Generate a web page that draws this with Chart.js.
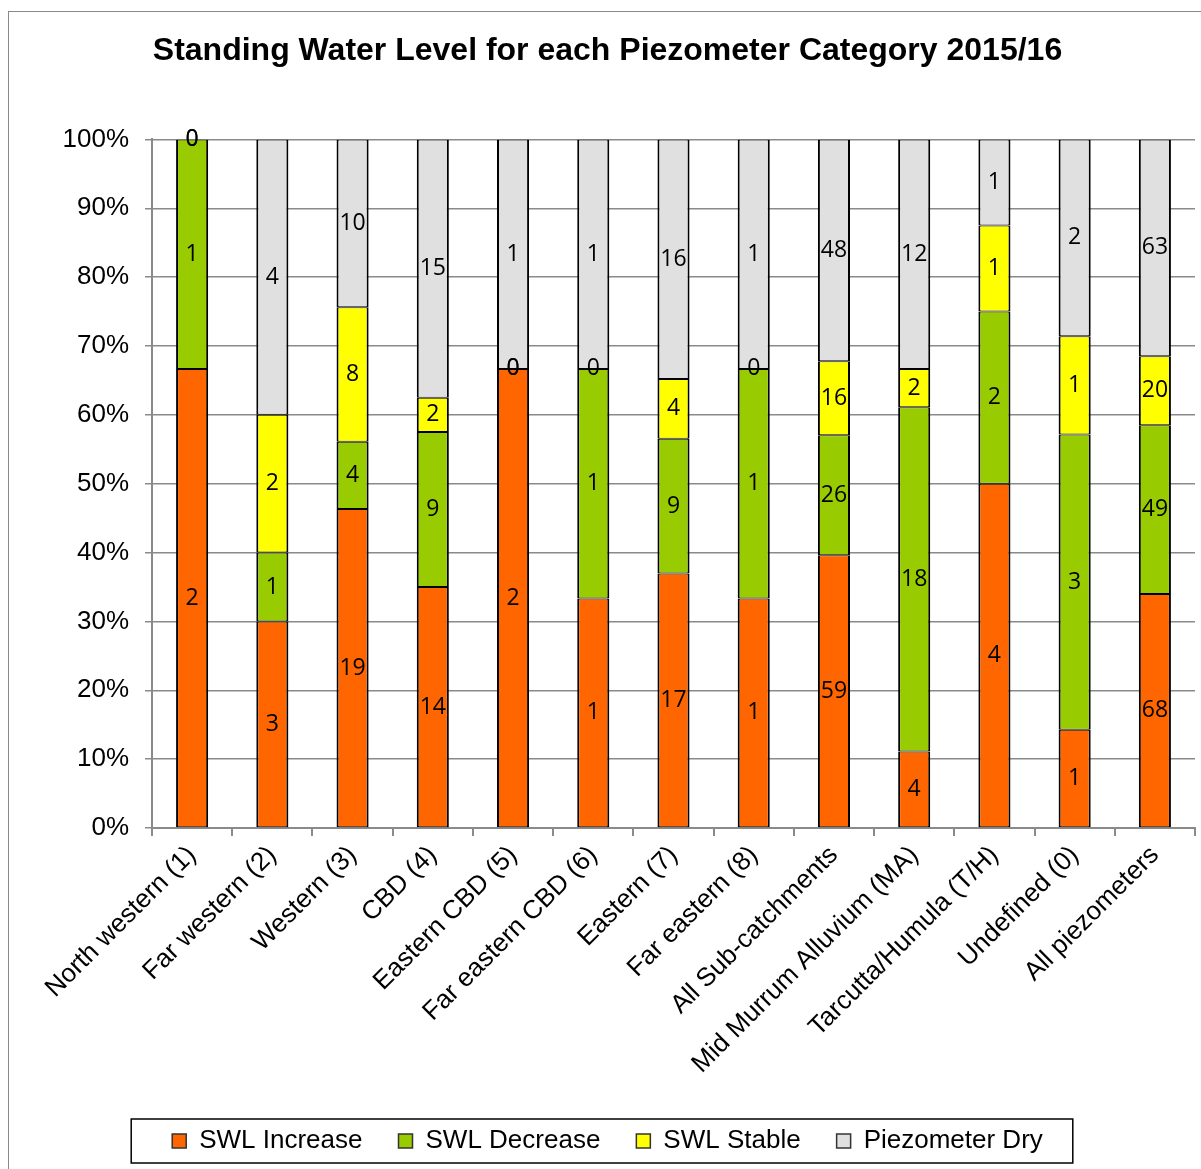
<!DOCTYPE html>
<html>
<head>
<meta charset="utf-8">
<script src="https://cdn.jsdelivr.net/npm/chart.js@4/dist/chart.umd.min.js"></script>
<style>
  html, body { margin: 0; padding: 0; background: #fff; overflow: hidden; }
  #frame { position: absolute; left: 8px; top: 11px; width: 1220px; height: 1200px; border: 1.5px solid #8a8a8a; }
  #wrap { position: absolute; left: 0; top: 0; width: 1201px; height: 1164px; }
</style>
</head>
<body>
<div id="frame"></div>
<div id="wrap"><canvas id="chart" width="1201" height="1164"></canvas></div>
<script>
const categories = ["North western (1)", "Far western (2)", "Western (3)", "CBD (4)", "Eastern CBD (5)",
  "Far eastern CBD (6)", "Eastern (7)", "Far eastern (8)", "All Sub-catchments",
  "Mid Murrum Alluvium (MA)", "Tarcutta/Humula (T/H)", "Undefined (0)", "All piezometers"];
const swlIncrease = [2, 3, 19, 14, 2, 1, 17, 1, 59, 4, 4, 1, 68];
const swlDecrease = [1, 1, 4, 9, 0, 1, 9, 1, 26, 18, 2, 3, 49];
const swlStable = [0, 2, 8, 2, 0, 0, 4, 0, 16, 2, 1, 1, 20];
const piezoDry = [0, 4, 10, 15, 1, 1, 16, 1, 48, 12, 1, 2, 63];
const yTicks = [0, 10, 20, 30, 40, 50, 60, 70, 80, 90, 100];

// totals per category, bars are shown as share of the total
const totals = categories.map((c, i) => swlIncrease[i] + swlDecrease[i] + swlStable[i] + piezoDry[i]);
const pct = (arr) => arr.map((v, i) => (v / totals[i]) * 100);

function series(label, counts, color) {
  return {
    label: label,
    data: pct(counts),
    counts: counts,
    backgroundColor: color,
    borderColor: "#000",
    borderWidth: { left: 2, right: 2, top: 1, bottom: 1 },
    borderSkipped: false,
    categoryPercentage: 1,
    barPercentage: 0.4,
  };
}

// count labels in the middle of every segment
const countLabels = {
  id: "countLabels",
  afterDatasetsDraw(chart) {
    const c = chart.ctx;
    c.save();
    c.font = "23px 'Open Sans', sans-serif";
    c.fillStyle = "#000";
    c.textAlign = "center";
    c.textBaseline = "middle";
    chart.data.datasets.forEach((ds, di) => {
      const meta = chart.getDatasetMeta(di);
      meta.data.forEach((bar, i) => {
        c.fillText(String(ds.counts[i]), bar.x, (bar.y + bar.base) / 2);
      });
    });
    c.restore();
  },
};

// box round the legend
const legendBox = {
  id: "legendBox",
  afterDraw(chart) {
    const lg = chart.legend;
    if (!lg || !lg.legendHitBoxes.length) return;
    const hb = lg.legendHitBoxes;
    const first = hb[0];
    const last = hb[hb.length - 1];
    const midY = first.top + first.height / 2;
    const c = chart.ctx;
    c.save();
    c.strokeStyle = "#000";
    c.lineWidth = 1.5;
    c.strokeRect(first.left - 41, midY - 22, last.left + last.width - first.left + 71, 44);
    c.restore();
  },
};

new Chart(document.getElementById("chart"), {
  type: "bar",
  data: {
    labels: categories,
    datasets: [
      series("SWL Increase", swlIncrease, "#FF6600"),
      series("SWL Decrease", swlDecrease, "#99CC00"),
      series("SWL Stable", swlStable, "#FFFF00"),
      series("Piezometer Dry", piezoDry, "#E0E0E0"),
    ],
  },
  options: {
    responsive: false,
    animation: false,
    layout: { padding: { left: 20, right: 6, top: 0, bottom: 0 } },
    plugins: {
      tooltip: { enabled: false },
      title: {
        display: true,
        text: "Standing Water Level for each Piezometer Category 2015/16",
        color: "#000",
        font: { family: "'Liberation Sans', Arial, sans-serif", size: 32, weight: "bold" },
        padding: { top: 32, bottom: 69 },
      },
      legend: {
        position: "bottom",
        labels: {
          color: "#000",
          font: { family: "'Liberation Sans', Arial, sans-serif", size: 26 },
          boxWidth: 14,
          boxHeight: 14,
          padding: 36,
          generateLabels(chart) {
            return chart.data.datasets.map((ds, i) => ({
              text: ds.label,
              fillStyle: ds.backgroundColor,
              strokeStyle: "#333",
              lineWidth: 1.5,
              datasetIndex: i,
            }));
          },
        },
      },
    },
    scales: {
      x: {
        stacked: true,
        grid: { offset: true, drawOnChartArea: false, drawTicks: true, tickLength: 8, color: "#8a8a8a", lineWidth: 2 },
        border: { color: "#8a8a8a", width: 2 },
        ticks: {
          color: "#000",
          font: { family: "'Liberation Sans', Arial, sans-serif", size: 26 },
          maxRotation: 45,
          minRotation: 45,
          autoSkip: false,
          padding: 4,
        },
        afterFit(scale) { scale.height = 264; },
      },
      y: {
        stacked: true,
        min: 0,
        max: 100,
        afterBuildTicks(scale) { scale.ticks = yTicks.map((v) => ({ value: v })); },
        grid: { color: "#8a8a8a", lineWidth: 1.5, tickLength: 7 },
        border: { color: "#8a8a8a", width: 2 },
        ticks: {
          color: "#000",
          font: { family: "'Liberation Sans', Arial, sans-serif", size: 26 },
          padding: 16,
          callback: (v) => v + "%",
        },
        afterFit(scale) { scale.width = 132; },
      },
    },
  },
  plugins: [countLabels, legendBox],
});
</script>
</body>
</html>
